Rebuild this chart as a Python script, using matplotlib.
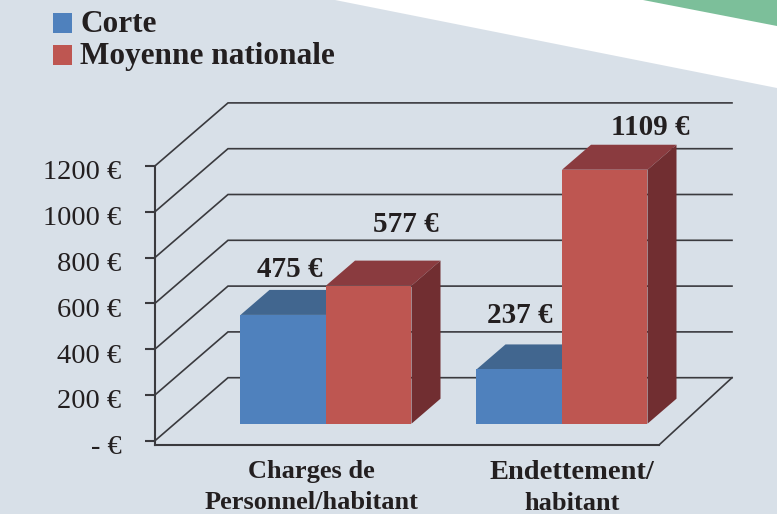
import matplotlib
matplotlib.use("Agg")
import matplotlib.pyplot as plt
from matplotlib.patches import Patch
from matplotlib.transforms import ScaledTranslation

# ---------- data ----------
categories = ["Charges de\nPersonnel/habitant", "Endettement/\nhabitant"]
series_names = ["Corte", "Moyenne nationale"]
corte_heights = [475, 237]
moyenne_heights = [603, 1109]      # heights as drawn in the picture
corte_labels = ["475 €", "237 €"]
moyenne_labels = ["577 €", "1109 €"]
tick_values = [0, 200, 400, 600, 800, 1000, 1200]
tick_labels = ["- €", "200 €", "400 €", "600 €", "800 €", "1000 €", "1200 €"]

# ---------- style ----------
W, H = 777, 514
BG = "#D8E0E8"
LINE = "#3A3A3E"
TEXT = "#231F20"
BLUE, BLUE_TOP = "#4F81BD", "#41668F"
RED, RED_TOP, RED_SIDE = "#BE5651", "#8A3B3F", "#712E31"
FONT = "Liberation Serif"

X_PX_PER_UNIT = 236.0
Y_PX_PER_UNIT = 0.229
X0_PX, Y0_PX = 326.0, 423.7     # pixel of data (0, 0): bar base between the bars of group 0


def X(px):
    return (px - X0_PX) / X_PX_PER_UNIT


def Y(py):
    return (Y0_PX - py) / Y_PX_PER_UNIT


fig = plt.figure(figsize=(W / 100, H / 100), dpi=100, facecolor=BG)
ax = fig.add_axes([0, 0, 1, 1], facecolor=BG)
ax.set_xlim(X(0), X(W))
ax.set_ylim(Y(H), Y(0))

# decorative background wedges
ax.fill([335 / W, 1, 1], [1, 1, 1 - 88 / H], color="white", lw=0,
        transform=ax.transAxes, zorder=0)
ax.fill([643 / W, 1, 1], [1, 1, 1 - 26 / H], color="#7CBF9A", lw=0,
        transform=ax.transAxes, zorder=0.5)

# 3D frame
axis_x = X(155)
wall_dx = 73 / X_PX_PER_UNIT
wall_dy = 63 / Y_PX_PER_UNIT
front_y = Y(440.7)              # where value 0 sits on the front axis
floor_y = Y(445)
right_x = X(732)
for v in tick_values:
    y = front_y + v
    ax.plot([axis_x, axis_x + wall_dx, right_x], [y, y + wall_dy, y + wall_dy],
            color=LINE, lw=1.2, zorder=1, solid_joinstyle="miter")
ax.plot([right_x - wall_dx, right_x], [floor_y, front_y + wall_dy],
        color=LINE, lw=1.2, zorder=1)

# axes: left spine with ticks, bottom spine as floor edge
for side in ("top", "right"):
    ax.spines[side].set_visible(False)
ax.spines["left"].set_position(("data", axis_x))
ax.spines["left"].set_bounds(floor_y, front_y + tick_values[-1])
ax.spines["bottom"].set_position(("data", floor_y))
ax.spines["bottom"].set_bounds(axis_x, right_x - wall_dx)
for side in ("left", "bottom"):
    ax.spines[side].set_color(LINE)
    ax.spines[side].set_linewidth(1.5)
ax.set_yticks([front_y + v for v in tick_values], tick_labels,
              fontfamily=FONT, fontsize=20.5, color=TEXT)
ax.tick_params(axis="y", length=7.2, width=1.5, color=LINE, pad=17)
shift = ScaledTranslation(0, -4 / 100, fig.dpi_scale_trans)
for lab in ax.get_yticklabels():
    lab.set_transform(lab.get_transform() + shift)

# category labels: the first line of the second label is set wider, as in the reference
line1, line2 = categories[1].split("\n")
ax.set_xticks([X(311.5), X(571.5)], [categories[0], line1], fontfamily=FONT, fontsize=19,
              fontweight="bold", color=TEXT, linespacing=1.41)
ax.tick_params(axis="x", length=0, pad=11)
ax.get_xticklabels()[1].set_fontsize(20.5)
ax.text(X(572), Y(509.5), line2, ha="center", va="baseline", fontfamily=FONT,
        fontsize=19, fontweight="bold", color=TEXT)

# bars with 3D top and side
bar_w = 85.5 / X_PX_PER_UNIT
d_x = 29 / X_PX_PER_UNIT
d_y = 25 / Y_PX_PER_UNIT


def bar3d(left, height, face, top, side, z):
    ax.bar(left, height, width=bar_w, align="edge", color=face, lw=0, zorder=z + 0.2)
    right = left + bar_w
    ax.fill([left, right, right + d_x, left + d_x],
            [height, height, height + d_y, height + d_y], color=top, lw=0, zorder=z)
    if side is not None:
        ax.fill([right, right + d_x, right + d_x, right],
                [0, d_y, height + d_y, height], color=side, lw=0, zorder=z)


for i in range(len(categories)):
    bar3d(i - bar_w, corte_heights[i], BLUE, BLUE_TOP, None, 2 + i)
    bar3d(i, moyenne_heights[i], RED, RED_TOP, RED_SIDE, 2.5 + i)

# value labels
label_positions = {
    corte_labels[0]: (289.5, 277),
    moyenne_labels[0]: (406, 232),
    corte_labels[1]: (520, 323),
    moyenne_labels[1]: (650, 135),
}
for txt, (px, py) in label_positions.items():
    ax.text(X(px), Y(py), txt, ha="center", va="baseline", fontfamily=FONT,
            fontsize=21, fontweight="bold", color=TEXT, zorder=6)

# legend
handles = [Patch(color=BLUE, lw=0), Patch(color=RED, lw=0)]
leg = ax.legend(handles, series_names, loc="upper left",
                bbox_to_anchor=(53 / W, 1 - 10 / H), frameon=False,
                prop={"family": FONT, "weight": "bold", "size": 22.5},
                handlelength=0.62, handleheight=0.62, handletextpad=0.25,
                labelspacing=0.09, borderpad=0, borderaxespad=0)
for t in leg.get_texts():
    t.set_color(TEXT)
for p in leg.get_patches():
    p.set_y(p.get_y() - 1.6)

fig.savefig("out.png", dpi=100, facecolor=BG)
